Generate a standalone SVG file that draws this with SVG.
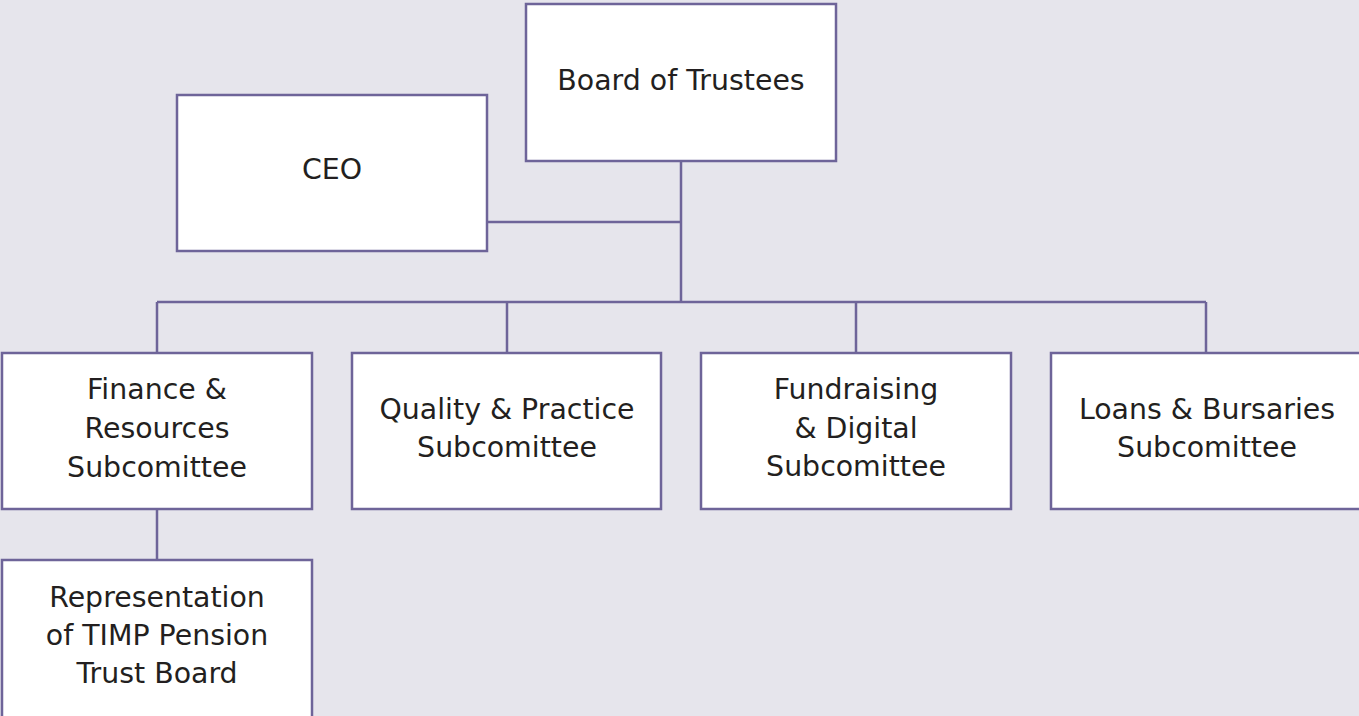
<svg xmlns="http://www.w3.org/2000/svg" width="1359" height="716" viewBox="0 0 1359 716">
<style>
.bg{fill:#e6e5ec}
.box{fill:#ffffff;stroke:#6e6499;stroke-width:2.5}
.ln{fill:none;stroke:#6e6499;stroke-width:2.5}
text{font-family:"DejaVu Sans","Liberation Sans",sans-serif;font-size:28.4px;fill:#231f20;text-anchor:middle}
</style>
<rect class="bg" x="0" y="0" width="1359" height="716"/>
<g id="connectors">
<path class="ln" d="M681 161V302M487 222H681M157 302H1206M157 302V353M507 302V353M856 302V353M1206 302V353M157 509V560"/>
</g>
<g id="board"><rect class="box" x="526" y="4" width="310" height="157"/><text x="681" y="90">Board of Trustees</text></g>
<g id="ceo"><rect class="box" x="177" y="95" width="310" height="156"/><text x="332" y="179">CEO</text></g>
<g id="finance"><rect class="box" x="2" y="353" width="310" height="156"/><text x="157" y="399">Finance &amp;</text><text x="157" y="438">Resources</text><text x="157" y="477">Subcomittee</text></g>
<g id="quality"><rect class="box" x="352" y="353" width="309" height="156"/><text x="507" y="419">Quality &amp; Practice</text><text x="507" y="457">Subcomittee</text></g>
<g id="fundraising"><rect class="box" x="701" y="353" width="310" height="156"/><text x="856" y="399">Fundraising</text><text x="856" y="438">&amp; Digital</text><text x="856" y="476">Subcomittee</text></g>
<g id="loans"><rect class="box" x="1051" y="353" width="320" height="156"/><text x="1207" y="419">Loans &amp; Bursaries</text><text x="1207" y="457">Subcomittee</text></g>
<g id="representation"><rect class="box" x="2" y="560" width="310" height="170"/><text x="157" y="607">Representation</text><text x="157" y="645">of TIMP Pension</text><text x="157" y="683">Trust Board</text></g>
</svg>
